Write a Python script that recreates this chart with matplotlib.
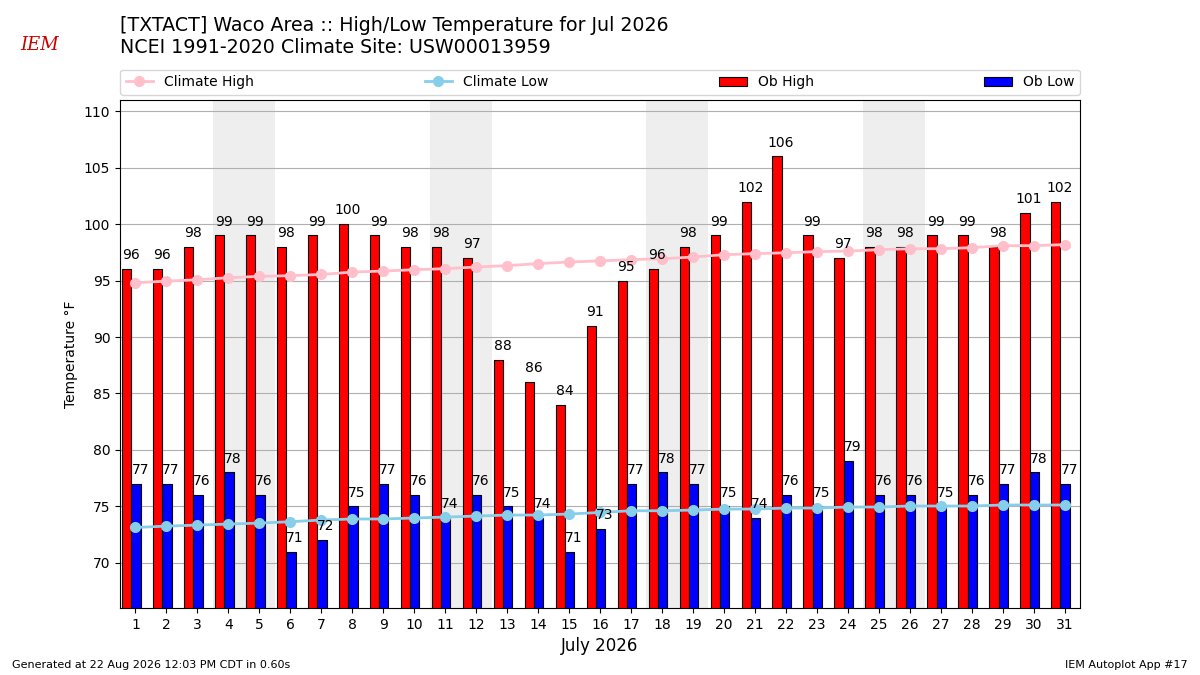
import matplotlib
matplotlib.use("Agg")
import matplotlib.pyplot as plt
import numpy as np

days = list(range(1, 32))
ob_high = [96, 96, 98, 99, 99, 98, 99, 100, 99, 98, 98, 97, 88, 86, 84, 91,
           95, 96, 98, 99, 102, 106, 99, 97, 98, 98, 99, 99, 98, 101, 102]
ob_low = [77, 77, 76, 78, 76, 71, 72, 75, 77, 76, 74, 76, 75, 74, 71, 73,
          77, 78, 77, 75, 74, 76, 75, 79, 76, 76, 75, 76, 77, 78, 77]
clim_high = [94.8, 94.95, 95.07, 95.25, 95.37, 95.43, 95.54, 95.75, 95.84, 95.96,
             96.05, 96.2, 96.32, 96.5, 96.64, 96.74, 96.85, 96.93, 97.08, 97.29,
             97.38, 97.46, 97.56, 97.61, 97.73, 97.82, 97.82, 97.91, 98.09, 98.09, 98.18]
clim_low = [73.13, 73.25, 73.34, 73.43, 73.52, 73.64, 73.79, 73.88, 73.88, 73.97,
            74.05, 74.14, 74.23, 74.23, 74.32, 74.46, 74.61, 74.61, 74.67, 74.76,
            74.76, 74.85, 74.85, 74.94, 74.94, 75.03, 75.03, 75.03, 75.12, 75.12, 75.12]
weekend_starts = [4, 11, 18, 25]
xticklabels = [str(d) for d in days]

fig = plt.figure(figsize=(12, 6.75), dpi=100)
ax = fig.add_axes([0.1, 0.0993, 0.8, 0.7527])

x = np.array(days, dtype=float)
for s in weekend_starts:
    ax.axvspan(s - 0.5, s + 1.5, color="#eeeeee", zorder=0, lw=0)

ax.bar(x - 0.43, ob_high, width=0.3, align="edge", color="red", edgecolor="black",
       linewidth=0.8, label="Ob High", zorder=2)
ax.bar(x - 0.13, ob_low, width=0.3, align="edge", color="blue", edgecolor="black",
       linewidth=0.8, label="Ob Low", zorder=2)
ax.plot(x, clim_high, color="pink", marker="o", markersize=7, lw=2,
        label="Climate High", zorder=3)
ax.plot(x, clim_low, color="skyblue", marker="o", markersize=7, lw=2,
        label="Climate Low", zorder=3)

for xi, h, l in zip(x, ob_high, ob_low):
    ax.text(xi - 0.15, h + 0.6, f"{h}", ha="center", va="bottom", fontsize=10, zorder=4)
    ax.text(xi + 0.15, l + 0.6, f"{l}", ha="center", va="bottom", fontsize=10, zorder=4)

ax.set_xlim(0.5, 31.5)
ax.set_ylim(66, 111)
ax.set_xticks(x)
ax.set_xticklabels(xticklabels, fontsize=10)
ax.set_yticks(range(70, 111, 5))
ax.tick_params(axis="y", labelsize=10)
ax.yaxis.grid(True, color="#b0b0b0", lw=0.8)
ax.set_axisbelow(True)
ax.set_ylabel("Temperature °F", fontsize=10)
ax.set_xlabel("July 2026", fontsize=12)

handles, labels = ax.get_legend_handles_labels()
order = [labels.index(n) for n in ["Climate High", "Climate Low", "Ob High", "Ob Low"]]
ax.legend([handles[i] for i in order], [labels[i] for i in order], ncol=4,
          mode="expand", loc="lower left", bbox_to_anchor=(0, 1.01, 1, 0.05),
          fontsize=10, borderaxespad=0)

fig.text(0.1, 0.962, "[TXTACT] Waco Area :: High/Low Temperature for Jul 2026",
         fontsize=13.7, va="center", ha="left")
fig.text(0.1, 0.929, "NCEI 1991-2020 Climate Site: USW00013959",
         fontsize=13.7, va="center", ha="left")
fig.text(0.017, 0.933, "IEM", color="#cc0000", fontsize=13, family="DejaVu Serif",
         style="italic", ha="left", va="center")
fig.text(0.01, 0.015, "Generated at 22 Aug 2026 12:03 PM CDT in 0.60s", fontsize=8,
         ha="left", va="center")
fig.text(0.99, 0.015, "IEM Autoplot App #17", fontsize=8, ha="right", va="center")

fig.savefig("out.png", dpi=100)
